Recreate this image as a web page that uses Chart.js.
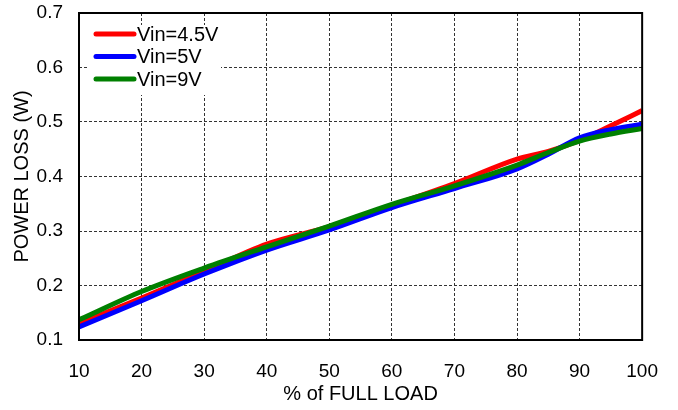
<!DOCTYPE html>
<html>
<head>
<meta charset="utf-8">
<script src="https://cdn.jsdelivr.net/npm/chart.js@4.4.1/dist/chart.umd.min.js"></script>
<style>
  html, body { margin: 0; padding: 0; background: #fff; }
  #wrap { width: 678px; height: 410px; }
</style>
</head>
<body>
<div id="wrap"><canvas id="chart" width="678" height="410"></canvas></div>
<script>
// данные
const loadPct = [10, 20, 30, 40, 50, 60, 70, 80, 85, 90, 95, 100];
const vin45 = [0.130, 0.177, 0.226, 0.276, 0.308, 0.347, 0.387, 0.432, 0.446, 0.466, 0.493, 0.521];
const vin5  = [0.124, 0.172, 0.221, 0.265, 0.302, 0.343, 0.378, 0.414, 0.441, 0.471, 0.486, 0.496];
const vin9  = [0.137, 0.189, 0.232, 0.271, 0.309, 0.349, 0.383, 0.421, 0.444, 0.465, 0.478, 0.488];
const seriesNames = ['Vin=4.5V', 'Vin=5V', 'Vin=9V'];
const seriesColors = ['#ff0000', '#0000ff', '#008000'];
const seriesValues = [vin45, vin5, vin9];

const FONT = 'Arial, "Liberation Sans", sans-serif';

function toPoints(values) {
  return loadPct.map((x, i) => ({ x: x, y: values[i] }));
}

// рамка и легенда поверх сетки
const frameLegend = {
  id: 'frameLegend',
  afterDatasetsDraw(chart) {
    const ctx = chart.ctx;
    const a = chart.chartArea;
    ctx.save();
    // белая подложка легенды
    ctx.fillStyle = '#fff';
    ctx.fillRect(a.left + 10, a.top + 12, 132, 70);
    // рамка графика
    ctx.strokeStyle = '#000';
    ctx.lineWidth = 2;
    ctx.strokeRect(a.left, a.top, a.right - a.left, a.bottom - a.top);
    // записи легенды
    ctx.font = '20px ' + FONT;
    ctx.textBaseline = 'middle';
    ctx.textAlign = 'left';
    chart.data.datasets.forEach((ds, i) => {
      const y = a.top + 21 + i * 22.5;
      ctx.strokeStyle = ds.borderColor;
      ctx.lineWidth = 5;
      ctx.lineCap = 'round';
      ctx.beginPath();
      ctx.moveTo(a.left + 17, y);
      ctx.lineTo(a.left + 55, y);
      ctx.stroke();
      ctx.fillStyle = '#000';
      ctx.fillText(ds.label, a.left + 58, y + 1);
    });
    ctx.restore();
  }
};

const gridColor = (c) => {
  if (c.index === 0 || c.index === c.scale.ticks.length - 1) return 'rgba(0,0,0,0)';
  return '#333';
};

new Chart(document.getElementById('chart'), {
  type: 'line',
  data: {
    datasets: seriesNames.map((name, i) => ({
      label: name,
      data: toPoints(seriesValues[i]),
      borderColor: seriesColors[i],
      backgroundColor: seriesColors[i],
      borderWidth: 5,
      pointRadius: 0,
      tension: 0.4,
      cubicInterpolationMode: 'monotone',
      order: 2 - i
    }))
  },
  options: {
    responsive: false,
    animation: false,
    layout: { padding: { left: 0, right: 31, top: 13, bottom: 0 } },
    plugins: {
      legend: { display: false },
      tooltip: { enabled: false }
    },
    scales: {
      x: {
        type: 'linear',
        min: 10,
        max: 100,
        afterFit(s) { s.height = 70; },
        ticks: {
          stepSize: 10,
          color: '#000',
          padding: 20,
          maxRotation: 0,
          font: { family: FONT, size: 19 }
        },
        grid: {
          color: gridColor,
          lineWidth: 1,
          drawTicks: false
        },
        border: { display: false, dash: [3, 2] },
        title: {
          display: true,
          text: '% of FULL LOAD',
          color: '#000',
          font: { family: FONT, size: 20 },
          padding: { top: 0, bottom: 4 }
        }
      },
      y: {
        min: 0.1,
        max: 0.7,
        afterFit(s) {
          s.width = 79;
          s.paddingTop = 0;
          s.paddingBottom = 0;
        },
        ticks: {
          stepSize: 0.1,
          color: '#000',
          padding: 16,
          font: { family: FONT, size: 19 },
          callback: (v) => v.toFixed(1)
        },
        grid: {
          color: gridColor,
          lineWidth: 1,
          drawTicks: false
        },
        border: { display: false, dash: [3, 2] },
        title: {
          display: true,
          text: 'POWER LOSS (W)',
          color: '#000',
          font: { family: FONT, size: 20 },
          padding: { top: 10, bottom: 0 }
        }
      }
    }
  },
  plugins: [frameLegend]
});
</script>
</body>
</html>
